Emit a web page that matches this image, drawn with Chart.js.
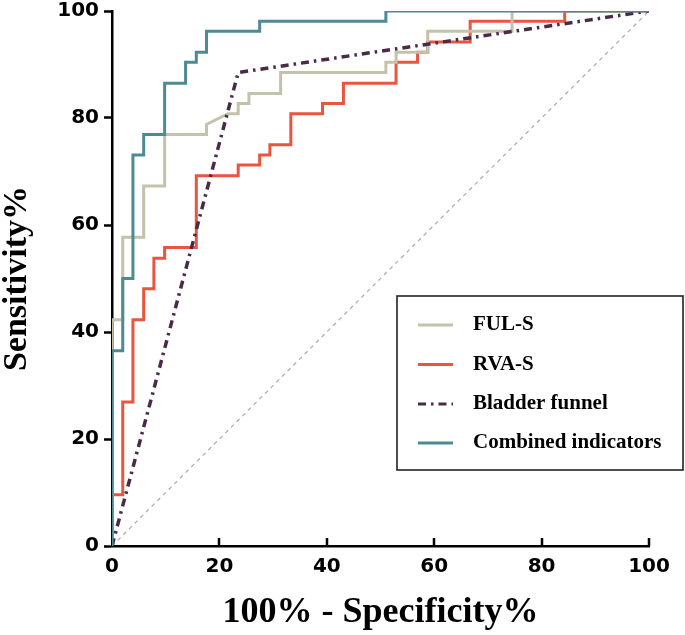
<!DOCTYPE html>
<html><head><meta charset="utf-8">
<script src="https://cdn.jsdelivr.net/npm/chart.js@4.4.1/dist/chart.umd.min.js"></script>
<style>html,body{margin:0;padding:0;background:#fff;}#wrap{width:685px;height:635px;}</style>
</head><body><div id="wrap"><canvas id="c" width="685" height="635"></canvas></div>
<script>
// ---- data ----
const seriesLabels = ['FUL-S', 'RVA-S', 'Bladder funnel', 'Combined indicators'];
const xTickValues = [0, 20, 40, 60, 80, 100];
const yTickValues = [0, 20, 40, 60, 80, 100];

const fulX = [0, 0, 2, 2, 5.9, 5.9, 9.8, 9.8, 17.6, 17.6, 21.6, 23.5, 23.5, 25.5, 25.5, 31.4, 31.4, 51, 51, 52.9, 52.9, 58.8, 58.8, 74.5, 74.5, 100];
const fulY = [0, 42.3, 42.3, 57.7, 57.7, 67.3, 67.3, 76.9, 76.9, 78.8, 80.8, 80.8, 82.7, 82.7, 84.6, 84.6, 88.5, 88.5, 90.4, 90.4, 92.3, 92.3, 96.2, 96.2, 100, 100];

const rvaX = [0, 0, 2, 2, 3.9, 3.9, 5.9, 5.9, 7.8, 7.8, 9.8, 9.8, 15.7, 15.7, 23.5, 23.5, 27.5, 27.5, 29.4, 29.4, 33.3, 33.3, 39.2, 39.2, 43.1, 43.1, 52.9, 52.9, 56.9, 56.9, 58.8, 58.8, 66.7, 66.7, 84.3, 84.3, 100];
const rvaY = [0, 9.6, 9.6, 26.9, 26.9, 42.3, 42.3, 48.1, 48.1, 53.8, 53.8, 55.8, 55.8, 69.2, 69.2, 71.2, 71.2, 73.1, 73.1, 75, 75, 80.8, 80.8, 82.7, 82.7, 86.5, 86.5, 90.4, 90.4, 92.3, 92.3, 94.2, 94.2, 98.1, 98.1, 100, 100];

const bladderX = [0, 23.5, 100];
const bladderY = [0, 88.5, 100];

const combX = [0, 0, 2, 2, 3.9, 3.9, 5.9, 5.9, 9.8, 9.8, 13.7, 13.7, 15.7, 15.7, 17.6, 17.6, 27.5, 27.5, 51, 51, 100];
const combY = [0, 36.5, 36.5, 50, 50, 73.1, 73.1, 76.9, 76.9, 86.5, 86.5, 90.4, 90.4, 92.3, 92.3, 96.2, 96.2, 98.1, 98.1, 100, 100];

const refX = [0, 100];
const refY = [0, 100];

const pts = (xs, ys) => xs.map((x, i) => ({x: x, y: ys[i]}));

// ---- plugins ----
const innerTicks = {
  id: 'innerTicks',
  afterDraw(chart) {
    const ctx = chart.ctx, xs = chart.scales.x, b = chart.chartArea.bottom;
    ctx.save();
    ctx.strokeStyle = '#000';
    ctx.lineWidth = 2.5;
    xs.ticks.forEach(t => {
      if (t.value === 0) return;
      const px = Math.round(xs.getPixelForValue(t.value));
      ctx.beginPath();
      ctx.moveTo(px, b);
      ctx.lineTo(px, b - 8);
      ctx.stroke();
    });
    ctx.restore();
  }
};

const boxLegend = {
  id: 'boxLegend',
  afterDraw(chart) {
    const ctx = chart.ctx;
    const left = 397, top = 296, w = 286, h = 174;
    ctx.save();
    ctx.fillStyle = '#fff';
    ctx.fillRect(left, top, w, h);
    ctx.strokeStyle = '#222';
    ctx.lineWidth = 1.6;
    ctx.strokeRect(left, top, w, h);
    const rows = [325, 364.5, 404, 443];
    const order = [0, 1, 2, 3];
    ctx.font = 'bold 21px "Liberation Serif", "Times New Roman", serif';
    ctx.textBaseline = 'middle';
    ctx.textAlign = 'left';
    order.forEach((di, i) => {
      const ds = chart.data.datasets[di];
      const y = rows[i];
      ctx.beginPath();
      ctx.setLineDash(ds.borderDash || []);
      ctx.lineDashOffset = 0;
      ctx.strokeStyle = ds.borderColor;
      ctx.lineWidth = 3;
      ctx.moveTo(418, y);
      ctx.lineTo(453, y);
      ctx.stroke();
      ctx.setLineDash([]);
      ctx.fillStyle = '#000';
      ctx.fillText(ds.label, 473, y);
    });
    ctx.restore();
  }
};

const base = {fill: false, pointRadius: 0, pointHoverRadius: 0, tension: 0, borderJoinStyle: 'miter'};

new Chart(document.getElementById('c'), {
  type: 'scatter',
  data: {
    datasets: [
      Object.assign({}, base, {label: seriesLabels[0], data: pts(fulX, fulY), showLine: true, borderColor: '#c3c2aa', borderWidth: 3, order: 2}),
      Object.assign({}, base, {label: seriesLabels[1], data: pts(rvaX, rvaY), showLine: true, borderColor: '#e9563f', borderWidth: 3, order: 3}),
      Object.assign({}, base, {label: seriesLabels[2], data: pts(bladderX, bladderY), showLine: true, borderColor: '#4a2b47', borderWidth: 3.5, borderDash: [8, 5, 2.5, 5], order: 1}),
      Object.assign({}, base, {label: seriesLabels[3], data: pts(combX, combY), showLine: true, borderColor: '#4d8b94', borderWidth: 3, order: 0}),
      Object.assign({}, base, {label: 'reference', data: pts(refX, refY), showLine: true, borderColor: '#aaaaaa', borderWidth: 1.2, borderDash: [4, 4], order: 4})
    ]
  },
  options: {
    responsive: false,
    devicePixelRatio: 1,
    animation: false,
    events: [],
    layout: {padding: {top: 11, right: 36, left: 0, bottom: 0}},
    plugins: {legend: {display: false}, tooltip: {enabled: false}},
    scales: {
      x: {
        type: 'linear', min: 0, max: 100,
        afterBuildTicks(s) { s.ticks = xTickValues.map(v => ({value: v})); },
        afterFit(s) { s.height = 89; },
        ticks: {color: '#000', padding: 11, font: {family: '"DejaVu Sans", sans-serif', weight: 'bold', size: 20, lineHeight: 1}, maxRotation: 0},
        grid: {display: true, drawOnChartArea: false, drawTicks: false, color: '#000'},
        border: {display: true, color: '#000', width: 2.5},
        title: {display: true, text: '100% - Specificity%', color: '#000', padding: {top: 0, bottom: 0}, font: {family: '"Liberation Serif", "Times New Roman", serif', weight: 'bold', size: 36, lineHeight: 1.25}}
      },
      y: {
        type: 'linear', min: 0, max: 100,
        afterBuildTicks(s) { s.ticks = yTickValues.map(v => ({value: v})); },
        afterFit(s) { s.width = 112; s.paddingTop = 0; s.paddingBottom = 0; },
        ticks: {color: '#000', padding: 5, font: {family: '"DejaVu Sans", sans-serif', weight: 'bold', size: 20, lineHeight: 1}},
        grid: {display: true, drawOnChartArea: false, drawTicks: true, tickLength: 8, tickWidth: 2.5, tickColor: '#000', color: '#000'},
        border: {display: true, color: '#000', width: 2.5},
        title: {display: true, text: 'Sensitivity%', color: '#000', padding: {top: 0, bottom: 0}, font: {family: '"Liberation Serif", "Times New Roman", serif', weight: 'bold', size: 34, lineHeight: 1}}
      }
    }
  },
  plugins: [innerTicks, boxLegend]
});
</script>
</body></html>
